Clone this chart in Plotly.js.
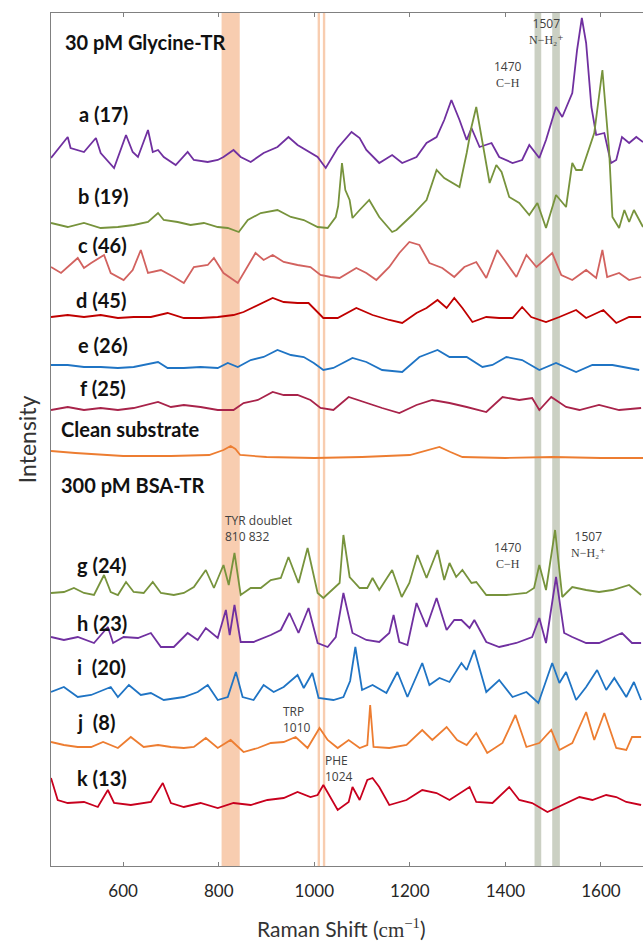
<!DOCTYPE html>
<html>
<head>
<meta charset="utf-8">
<script src="https://cdn.plot.ly/plotly-3.0.1.min.js"></script>
<style>html,body{margin:0;padding:0;background:#fff;}#chart{width:643px;height:944px;}</style>
</head>
<body>
<div id="chart"></div>
<script>
// ---- Data (Raman shift in cm-1, intensity in arbitrary offset units) ----
const xA = [449,484,490,518,543,553,581,606,620,631,652,662,673,685,710,735,748,777,798,810,831,846,867,894,923,946,965,992,1007,1024,1049,1078,1095,1109,1136,1163,1184,1214,1235,1256,1272,1287,1304,1319,1329,1346,1371,1387,1415,1435,1450,1471,1485,1506,1519,1540,1550,1560,1569,1580,1590,1607,1621,1632,1644,1659,1674,1688];
const yA = [708,729,718,714,728,713,698,731,714,709,736,714,716,709,701,714,706,704,706,709,716,709,704,713,719,729,721,713,709,698,718,734,728,716,703,711,703,709,723,729,746,766,746,726,738,719,723,709,703,706,721,708,726,759,749,773,816,848,823,759,731,733,703,706,729,723,729,724];

const xB = [449,484,518,553,589,622,652,673,685,714,741,769,798,819,842,861,888,923,951,978,1007,1028,1045,1050,1058,1065,1074,1080,1095,1115,1136,1163,1172,1205,1235,1256,1272,1304,1319,1329,1339,1352,1367,1381,1392,1408,1429,1450,1467,1485,1506,1527,1540,1548,1560,1586,1603,1617,1624,1638,1649,1659,1669,1688];
const yB = [643,639,643,638,639,641,644,653,646,644,641,643,639,638,634,646,653,656,649,646,639,638,649,660,703,676,666,648,656,666,649,634,636,651,666,696,688,679,713,739,759,723,683,701,694,669,663,651,663,638,671,659,703,696,696,733,796,716,649,638,656,644,656,639];

const xC = [449,470,505,518,533,560,574,601,620,637,652,679,706,727,748,777,790,810,840,852,877,894,913,936,965,992,1013,1034,1053,1088,1109,1130,1157,1178,1199,1220,1241,1268,1293,1314,1339,1360,1383,1398,1423,1444,1465,1498,1517,1540,1569,1590,1603,1613,1638,1659,1684];
const yC = [599,593,608,598,603,611,593,586,596,616,593,596,589,583,599,601,608,593,583,593,613,606,611,604,601,599,591,589,588,598,593,586,599,613,624,621,603,598,589,599,604,588,616,606,589,611,599,613,591,586,596,588,616,589,593,586,589];

const xD = [449,484,518,553,589,622,658,693,727,762,798,831,852,882,913,936,965,988,1007,1019,1049,1072,1088,1122,1157,1184,1214,1235,1258,1277,1293,1310,1331,1360,1387,1415,1435,1454,1485,1513,1548,1569,1605,1632,1659,1684];
const yD = [549,551,549,551,548,549,549,553,548,548,549,551,554,561,568,564,563,563,554,548,548,554,558,551,546,543,553,558,566,558,568,558,544,549,548,548,559,549,544,549,556,548,556,543,549,549];

const xE = [449,484,518,553,589,622,673,693,727,762,798,819,840,867,894,923,951,978,999,1019,1040,1072,1080,1109,1142,1184,1220,1258,1283,1319,1352,1373,1402,1435,1471,1506,1548,1582,1624,1680];
const yE = [501,501,499,499,498,499,504,498,498,499,498,503,499,506,509,516,511,509,503,496,498,506,508,504,496,494,509,516,509,509,499,501,509,506,496,503,494,501,501,496];

const xF = [449,484,518,553,589,622,673,700,727,762,798,831,852,882,913,936,965,992,1013,1040,1072,1109,1142,1178,1214,1247,1283,1319,1360,1394,1429,1456,1471,1496,1527,1555,1596,1638,1684];
const yF = [456,459,456,458,456,458,464,459,461,459,456,456,463,466,474,471,471,466,458,456,469,463,458,453,461,466,463,459,454,469,466,468,456,469,459,456,461,456,458];

const xClean = [449,500,600,700,780,810,825,835,845,900,1000,1100,1200,1240,1262,1285,1310,1400,1500,1600,1688];
const yClean = [415,413,410,410,411,416,420,417,411,409,408,409,411,416,419,414,409,408,409,408,408];

const xG = [449,476,497,518,539,560,574,589,606,622,643,662,679,706,727,748,773,790,810,821,833,846,867,888,909,930,946,967,986,1007,1019,1038,1053,1061,1074,1095,1111,1122,1136,1163,1183,1199,1216,1235,1258,1272,1283,1297,1310,1329,1339,1360,1402,1444,1460,1471,1485,1504,1519,1540,1569,1596,1624,1659,1684];
const yG = [273,274,278,273,271,291,274,271,284,274,273,284,273,271,273,279,296,278,301,281,313,271,278,278,286,288,309,283,318,273,268,276,283,331,289,278,278,288,276,296,269,283,311,288,316,286,303,289,296,283,284,271,271,273,278,301,276,336,269,279,276,274,276,281,271];

const xH = [449,476,505,539,568,579,601,631,658,679,706,735,756,773,798,815,823,833,846,873,909,930,948,967,988,1007,1028,1045,1061,1080,1109,1136,1157,1166,1178,1195,1214,1235,1256,1277,1293,1308,1325,1335,1360,1387,1423,1456,1471,1485,1506,1523,1540,1569,1596,1644,1665,1684];
const yH = [229,226,229,223,239,223,229,228,233,219,219,233,226,238,228,256,231,261,224,224,231,236,253,233,258,223,219,229,273,233,226,224,233,251,224,221,263,239,268,236,246,246,238,246,224,219,223,229,248,223,289,233,229,223,223,233,223,223];

const xI = [449,476,505,533,574,589,612,637,658,685,727,756,777,798,819,836,850,873,894,915,936,965,978,996,1009,1040,1061,1075,1086,1100,1122,1151,1174,1195,1226,1241,1262,1283,1308,1319,1335,1360,1387,1415,1444,1469,1498,1513,1527,1548,1569,1592,1611,1628,1653,1669,1684];
const yI = [174,179,169,171,179,169,181,171,173,166,169,174,181,166,169,194,169,166,181,174,179,191,178,193,168,166,169,185,219,176,181,173,194,169,203,181,188,184,203,196,216,174,186,169,174,163,203,183,194,166,179,196,176,188,169,184,166];

const xJ = [449,476,505,533,558,589,616,643,673,700,727,748,773,798,825,852,882,909,936,961,986,1011,1028,1049,1072,1095,1111,1117,1124,1157,1193,1226,1247,1277,1299,1319,1339,1362,1394,1421,1444,1471,1496,1513,1540,1569,1586,1607,1632,1653,1665,1684];
const yJ = [124,121,119,119,124,118,129,119,121,119,118,119,128,118,126,114,118,123,124,129,118,138,126,118,126,118,121,161,119,118,121,136,126,139,126,121,133,113,123,151,119,123,136,116,123,154,126,153,118,116,129,129];

const xK = [449,463,484,518,547,568,581,616,658,683,700,727,762,798,831,867,902,936,965,992,1007,1019,1049,1072,1080,1095,1111,1122,1136,1157,1193,1226,1256,1283,1325,1339,1373,1408,1429,1456,1488,1527,1555,1582,1611,1632,1653,1684];
const yK = [88,66,63,64,59,76,63,61,64,83,63,59,63,58,63,61,66,68,74,69,71,81,56,64,79,66,86,88,79,61,66,76,73,66,79,64,63,79,66,63,54,63,69,66,71,69,64,61];

const xTicks = [600, 800, 1000, 1200, 1400, 1600];
const xRange = [449, 1688];
const yRange = [0, 853];

// shaded marker bands (cm-1)
const peachBands = [[806, 844], [1007, 1012], [1018, 1023]];
const grayBands = [[1461, 1475], [1498, 1514]];

const seriesNames = ['a (17)','b (19)','c (46)','d (45)','e (26)','f (25)','Clean substrate','g (24)','h (23)','i (20)','j (8)','k (13)'];
const seriesX = [xA, xB, xC, xD, xE, xF, xClean, xG, xH, xI, xJ, xK];
const seriesY = [yA, yB, yC, yD, yE, yF, yClean, yG, yH, yI, yJ, yK];
const seriesColors = ['#7030A0','#77933C','#D2625F','#C00000','#1F74C4','#A8234A','#ED7D31','#77933C','#7030A0','#1F74C4','#ED7D31','#C8001E'];

// ---- Build traces ----
const traces = seriesX.map((xs, i) => ({
  type: 'scatter', mode: 'lines', x: xs, y: seriesY[i], name: seriesNames[i],
  line: {color: seriesColors[i], width: 1.8}, hoverinfo: 'skip'
}));

const shapes = [];
peachBands.forEach(b => shapes.push({type:'rect', xref:'x', yref:'paper', x0:b[0], x1:b[1], y0:0, y1:1, fillcolor:'#F8CDB0', line:{width:0}, layer:'below'}));
grayBands.forEach(b => shapes.push({type:'rect', xref:'x', yref:'paper', x0:b[0], x1:b[1], y0:0, y1:1, fillcolor:'#CBD0C3', line:{width:0}, layer:'below'}));

const labelFont = {family:'Lato, "Open Sans", sans-serif', size:20, color:'#111111', weight:700};
const smallFont = {family:'"Open Sans", Lato, sans-serif', size:12, color:'#404040'};
const serif = 'font-family:\'Liberation Serif\',\'DejaVu Serif\',serif';

function lab(text, x, y, font, extra) {
  return Object.assign({text: text, x: x, y: y, xref:'x', yref:'y', showarrow:false, xanchor:'left', yanchor:'middle', font: font}, extra || {});
}

const annotations = [
  lab('<b>30 pM Glycine-TR</b>', 474, 824, labelFont),
  lab('<b>a (17)</b>', 503, 752, labelFont),
  lab('<b>b (19)</b>', 501, 670, labelFont),
  lab('<b>c (46)</b>', 501, 621, labelFont),
  lab('<b>d (45)</b>', 497, 566, labelFont),
  lab('<b>e (26)</b>', 501, 521, labelFont),
  lab('<b>f (25)</b>', 505, 478, labelFont),
  lab('<b>Clean substrate</b>', 466, 437, labelFont),
  lab('<b>300 pM BSA-TR</b>', 466, 381, labelFont),
  lab('<b>g (24)</b>', 499, 301, labelFont),
  lab('<b>h (23)</b>', 499, 243, labelFont),
  lab('<b>i  (20)</b>', 499, 199, labelFont),
  lab('<b>j  (8)</b>', 499, 144, labelFont),
  lab('<b>k (13)</b>', 499, 88, labelFont),
  lab('1470<br><span style="' + serif + '">C−H</span>', 1406, 792, smallFont, {xanchor:'center'}),
  lab('1507<br><span style="' + serif + '">N−H₂⁺</span>', 1485, 835, smallFont, {xanchor:'center'}),
  lab('TYR doublet<br>810 832', 808, 338, smallFont, {align:'left'}),
  lab('1470<br><span style="' + serif + '">C−H</span>', 1406, 311, smallFont, {xanchor:'center'}),
  lab('1507<br><span style="' + serif + '">N−H₂⁺</span>', 1574, 322, smallFont, {xanchor:'center'}),
  lab('TRP<br>1010', 930, 147, smallFont, {align:'left'}),
  lab('PHE<br>1024', 1019, 98, smallFont, {align:'left'}),
  {text:'Raman Shift (<span style="' + serif + '">cm<sup>−1</sup></span>)', xref:'paper', yref:'paper', x:0.49, y:-0.073, showarrow:false, xanchor:'center', yanchor:'middle', font:{family:'Lato, "Open Sans", sans-serif', size:21, color:'#333333'}},
  {text:'Intensity', xref:'paper', yref:'paper', x:-0.041, y:0.5, showarrow:false, textangle:-90, xanchor:'center', yanchor:'middle', font:{family:'Lato, "Open Sans", sans-serif', size:23, color:'#333333'}}
];

const layout = {
  width: 643, height: 944,
  margin: {l:51, r:0, t:13, b:78, pad:0},
  paper_bgcolor:'#ffffff', plot_bgcolor:'#ffffff',
  showlegend:false,
  xaxis: {range: xRange, tickvals: xTicks, ticktext: xTicks.map(String), ticks:'inside', ticklen:4, tickcolor:'#808080',
          showline:true, linecolor:'#808080', linewidth:1, mirror:'ticks', showgrid:false, zeroline:false,
          tickfont:{family:'Lato, "Open Sans", sans-serif', size:17, color:'#262626'}, ticklabelstandoff:10},
  yaxis: {range: yRange, showticklabels:false, ticks:'', showline:true, linecolor:'#808080', linewidth:1, showgrid:false, zeroline:false},
  shapes: shapes,
  annotations: annotations
};

Plotly.newPlot('chart', traces, layout, {staticPlot:true, displayModeBar:false});
</script>
</body>
</html>
